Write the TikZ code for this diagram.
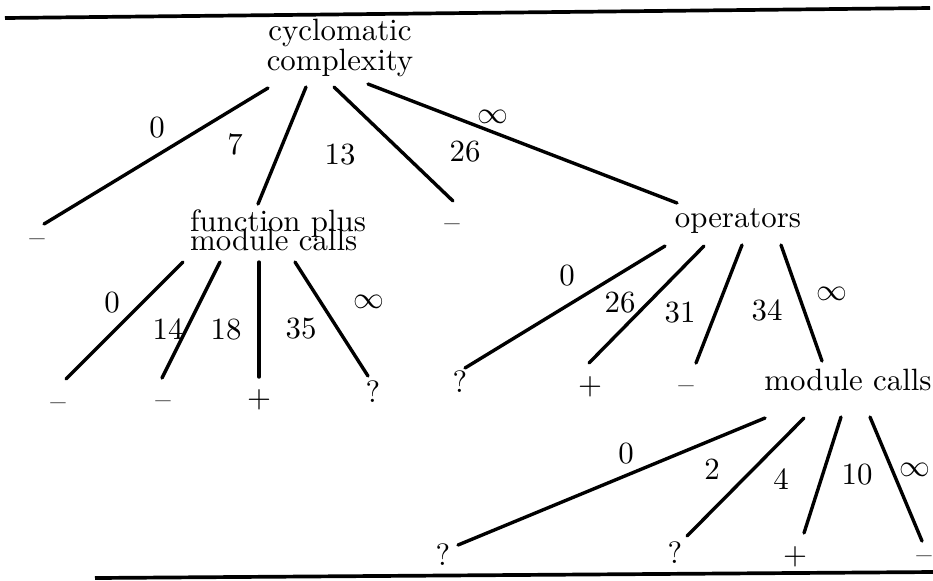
\documentclass[tikz,border=0pt]{standalone}
\usepackage{amsmath}
\usepackage{amssymb}
\begin{document}
\begin{tikzpicture}[x=0.0114cm, y=-0.0114cm,
    edge/.style={line width=1.1pt, line cap=round},
    rule/.style={line width=1.2pt},
    test/.style={inner sep=0pt},
    leaf/.style={inner sep=0pt},
    cut/.style={inner sep=0pt}]
  \useasboundingbox (0,0) rectangle (933,580);
  % rules above and below the tree
  \draw[rule] (5,18) -- (930,8);
  \draw[rule] (95,578) -- (933,572);
  % tests
  \node[test, align=center] (cc) at (340,48) {cyclomatic\\[-2.3pt]complexity};
  \node[test, align=left] (fmc) at (278,230.5) {function plus\\[-6pt]module calls};
  \node[test, anchor=base] (ops) at (738,227) {operators};
  \node[test, anchor=base] (mc) at (848,390) {module calls};
  % leaves
  \node[leaf] (cc1) at (37,243) {--};
  \node[leaf] (cc3) at (452,228) {--};
  \node[leaf] (fmc1) at (58,407) {--};
  \node[leaf] (fmc2) at (163,405) {--};
  \node[leaf] (fmc3) at (259,400) {$+$};
  \node[leaf] (fmc4) at (373,392) {?};
  \node[leaf] (ops1) at (460,382) {?};
  \node[leaf] (ops2) at (590,387) {$+$};
  \node[leaf] (ops3) at (686,390) {--};
  \node[leaf] (mc1) at (443,555) {?};
  \node[leaf] (mc2) at (675,553) {?};
  \node[leaf] (mc3) at (795,557) {$+$};
  \node[leaf] (mc4) at (924,560) {--};
  % cut points
  \foreach \t/\x/\y [count=\i] in {0/157/128, 7/235/145, 13/340/155, 26/465/152, \infty/493/117}
    \node[cut] (cc-c\i) at (\x,\y) {$\t$};
  \foreach \t/\x/\y [count=\i] in {0/112/303, 14/168/330, 18/226/330, 35/301/329, \infty/369/302}
    \node[cut] (fmc-c\i) at (\x,\y) {$\t$};
  \foreach \t/\x/\y [count=\i] in {0/567/276, 26/620/303, 31/680/313, 34/767/311, \infty/832/294}
    \node[cut] (ops-c\i) at (\x,\y) {$\t$};
  \foreach \t/\x/\y [count=\i] in {0/626/454, 2/712/470, 4/781/480, 10/857/475, \infty/915/470}
    \node[cut] (mc-c\i) at (\x,\y) {$\t$};
  % branches of cyclomatic complexity
  \draw[edge] ([shift={(-72,40)}]cc.center) -- ([shift={(7,-19)}]cc1.center);
  \draw[edge] ([shift={(-34,39)}]cc.center) -- ([shift={(-20,-26.5)}]fmc.center);
  \draw[edge] ([shift={(-6,39)}]cc.center) -- ([shift={(1,-27)}]cc3.center);
  \draw[edge] ([shift={(28,36)}]cc.center) -- ([shift={(-61,-24)}]ops.base);
  % branches of function plus module calls
  \draw[edge] ([shift={(-95,31.5)}]fmc.center) -- ([shift={(8,-28)}]fmc1.center);
  \draw[edge] ([shift={(-58,31.5)}]fmc.center) -- ([shift={(-1,-27)}]fmc2.center);
  \draw[edge] ([shift={(-19,31.5)}]fmc.center) -- ([shift={(0,-23)}]fmc3.center);
  \draw[edge] ([shift={(17,31.5)}]fmc.center) -- ([shift={(-5,-16)}]fmc4.center);
  % branches of operators
  \draw[edge] ([shift={(-73,19)}]ops.base) -- ([shift={(5,-14)}]ops1.center);
  \draw[edge] ([shift={(-34,19)}]ops.base) -- ([shift={(-1,-24)}]ops2.center);
  \draw[edge] ([shift={(4,18)}]ops.base) -- ([shift={(10,-27)}]ops3.center);
  \draw[edge] ([shift={(43,18)}]ops.base) -- ([shift={(-26,-29)}]mc.base);
  % branches of module calls
  \draw[edge] ([shift={(-83,28)}]mc.base) -- ([shift={(15,-10)}]mc1.center);
  \draw[edge] ([shift={(-44,28)}]mc.base) -- ([shift={(12,-17)}]mc2.center);
  \draw[edge] ([shift={(-7,27)}]mc.base) -- ([shift={(9,-24)}]mc3.center);
  \draw[edge] ([shift={(22,27)}]mc.base) -- ([shift={(-2,-19)}]mc4.center);
\end{tikzpicture}
\end{document}
